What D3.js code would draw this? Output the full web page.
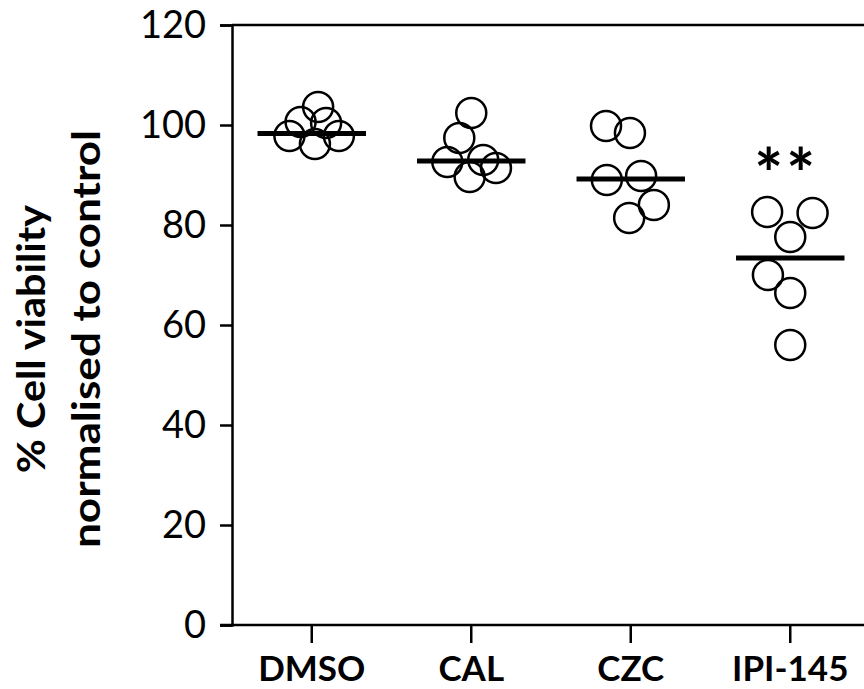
<!DOCTYPE html>
<html>
<head>
<meta charset="utf-8">
<script src="https://cdn.jsdelivr.net/npm/d3@7"></script>
<style>
  body { margin: 0; background: #fff; }
  text { font-family: Lato, "Open Sans", sans-serif; fill: #000; }
</style>
</head>
<body>
<script>
const groups = ["DMSO", "CAL", "CZC", "IPI-145"];

// % viability of each replicate
const dmso = [103.6, 100.6, 100.4, 97.8, 97.8, 96.2];
const cal  = [102.4, 97.4, 92.6, 93.0, 91.4, 89.6];
const czc  = [99.8, 98.4, 89.0, 89.8, 84.0, 81.4];
const ipi  = [82.6, 82.4, 77.6, 70.0, 66.4, 56.0];

// horizontal scatter of each replicate, as a fraction of one category step
const dmsoJit = [0.04, -0.07, 0.09, -0.14, 0.17, 0.02];
const calJit  = [0.0, -0.075, -0.15, 0.075, 0.155, -0.01];
const czcJit  = [-0.155, -0.005, -0.15, 0.065, 0.145, -0.01];
const ipiJit  = [-0.145, 0.14, 0.0, -0.14, 0.0, 0.0];

const means = [98.3, 92.8, 89.2, 73.4];
const stars = ["", "", "", "**"];
const yTicks = [0, 20, 40, 60, 80, 100, 120];
const titleLines = ["% Cell viability", "normalised to control"];

const values = [dmso, cal, czc, ipi];
const jitter = [dmsoJit, calJit, czcJit, ipiJit];

const width = 864, height = 689;
const plotLeft = 232, plotTop = 25, plotBottom = 625;

const svg = d3.select("body").append("svg")
    .attr("width", width)
    .attr("height", height);

const x = d3.scaleBand()
    .domain(groups)
    .range([plotLeft, plotLeft + 4 * 159.5])
    .padding(0);

const y = d3.scaleLinear()
    .domain([0, 120])
    .range([plotBottom, plotTop]);

// y axis
const yAxis = svg.append("g")
    .attr("transform", `translate(${plotLeft},0)`)
    .call(d3.axisLeft(y).tickValues(yTicks).tickSize(12).tickPadding(14));
yAxis.select(".domain").attr("stroke-width", 2.5);
yAxis.selectAll(".tick line").attr("stroke-width", 2.5);
yAxis.selectAll(".tick text")
    .attr("font-size", 38)
    .attr("font-family", "Lato, sans-serif");

// x axis
const xAxis = svg.append("g")
    .attr("transform", `translate(0,${plotBottom})`)
    .call(d3.axisBottom(x).tickSize(18).tickPadding(13));
xAxis.select(".domain").remove();
xAxis.selectAll(".tick line").attr("stroke-width", 2.5);
xAxis.selectAll(".tick text")
    .attr("font-size", 35)
    .attr("font-weight", "bold")
    .attr("font-family", "Lato, sans-serif");
xAxis.append("line")
    .attr("x1", plotLeft - 12).attr("x2", width)
    .attr("stroke", "#000").attr("stroke-width", 2.5);

// top frame
svg.append("line")
    .attr("x1", plotLeft).attr("x2", width)
    .attr("y1", y(120)).attr("y2", y(120))
    .attr("stroke", "#000").attr("stroke-width", 2.5);

// y title, two lines
const titleLen = [268, 418];
svg.append("g").selectAll("text")
    .data(titleLines)
    .join("text")
    .attr("transform", (d, i) => `translate(${45 + i * 55},339) rotate(-90)`)
    .attr("text-anchor", "middle")
    .attr("font-size", 39)
    .attr("font-weight", "bold")
    .attr("textLength", (d, i) => titleLen[i])
    .attr("lengthAdjust", "spacingAndGlyphs")
    .text(d => d);

// points
const pts = [];
values.forEach((vals, g) => vals.forEach((v, i) => pts.push({ g: groups[g], v: v, j: jitter[g][i] })));

svg.append("g").selectAll("circle")
    .data(pts)
    .join("circle")
    .attr("cx", d => x(d.g) + x.bandwidth() / 2 + d.j * x.step())
    .attr("cy", d => y(d.v))
    .attr("r", 15)
    .attr("fill", "none")
    .attr("stroke", "#000")
    .attr("stroke-width", 2.5);

// mean bars
svg.append("g").selectAll("line")
    .data(means)
    .join("line")
    .attr("x1", (d, i) => x(groups[i]) + x.bandwidth() / 2 - 0.34 * x.step())
    .attr("x2", (d, i) => x(groups[i]) + x.bandwidth() / 2 + 0.34 * x.step())
    .attr("y1", d => y(d))
    .attr("y2", d => y(d))
    .attr("stroke", "#000")
    .attr("stroke-width", 5);

// significance
svg.append("g").selectAll("text")
    .data(stars)
    .join("text")
    .attr("x", (d, i) => x(groups[i]) + x.bandwidth() / 2 - 4)
    .attr("y", (d, i) => y(d3.max(values[i])) - 13)
    .attr("text-anchor", "middle")
    .attr("font-family", "'DejaVu Sans', sans-serif")
    .attr("font-size", 68)
    .attr("font-weight", "bold")
    .attr("letter-spacing", 3)
    .text(d => d);
</script>
</body>
</html>
